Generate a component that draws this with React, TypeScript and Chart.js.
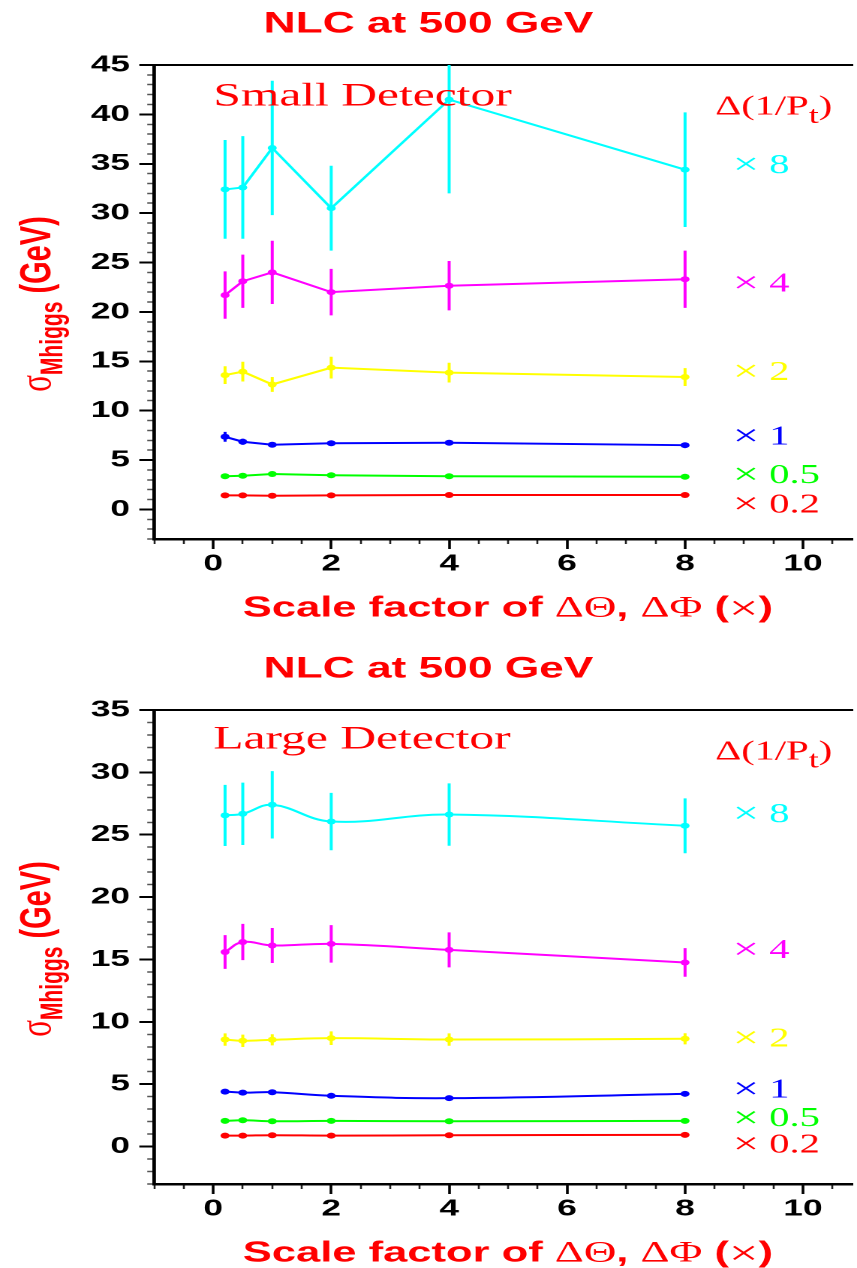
import React, { useEffect, useRef } from 'react';
import { Chart, registerables } from 'chart.js';

Chart.register(...registerables);

// ---------------- data ----------------
const X_VALUES = [0.2, 0.5, 1, 2, 4, 8];

const SERIES_FACTORS = ['8', '4', '2', '1', '0.5', '0.2'];
const SERIES_COLORS = ['#00ffff', '#ff00ff', '#ffff00', '#0000ff', '#00ff00', '#ff0000'];

// Small detector (top panel)
const SMALL_X8 = [32.4, 32.6, 36.6, 30.5, 41.5, 34.4];
const SMALL_X8_ERR = [5.0, 5.2, 6.8, 4.3, 9.5, 5.8];
const SMALL_X4 = [21.7, 23.1, 24.0, 22.0, 22.65, 23.3];
const SMALL_X4_ERR = [2.4, 2.7, 3.2, 2.35, 2.5, 2.9];
const SMALL_X2 = [13.6, 13.95, 12.65, 14.35, 13.85, 13.4];
const SMALL_X2_ERR = [0.9, 1.0, 0.75, 1.1, 1.0, 0.9];
const SMALL_X1 = [7.35, 6.85, 6.55, 6.7, 6.75, 6.5];
const SMALL_X1_ERR = [0.5, 0.3, 0.2, 0.2, 0.2, 0.2];
const SMALL_X05 = [3.35, 3.4, 3.58, 3.45, 3.35, 3.3];
const SMALL_X05_ERR = [0.1, 0.1, 0.1, 0.1, 0.1, 0.1];
const SMALL_X02 = [1.42, 1.42, 1.38, 1.42, 1.45, 1.45];
const SMALL_X02_ERR = [0.08, 0.08, 0.08, 0.08, 0.08, 0.08];

// Large detector (bottom panel)
const LARGE_X8 = [26.55, 26.68, 27.4, 26.06, 26.62, 25.72];
const LARGE_X8_ERR = [2.45, 2.5, 2.7, 2.3, 2.5, 2.2];
const LARGE_X4 = [15.6, 16.4, 16.12, 16.25, 15.77, 14.76];
const LARGE_X4_ERR = [1.35, 1.45, 1.4, 1.5, 1.4, 1.15];
const LARGE_X2 = [8.58, 8.48, 8.56, 8.69, 8.58, 8.64];
const LARGE_X2_ERR = [0.5, 0.5, 0.45, 0.55, 0.5, 0.45];
const LARGE_X1 = [4.41, 4.33, 4.36, 4.07, 3.88, 4.23];
const LARGE_X1_ERR = [0.1, 0.1, 0.1, 0.1, 0.1, 0.1];
const LARGE_X05 = [2.06, 2.11, 2.03, 2.06, 2.03, 2.06];
const LARGE_X05_ERR = [0.06, 0.06, 0.06, 0.06, 0.06, 0.06];
const LARGE_X02 = [0.88, 0.88, 0.91, 0.88, 0.91, 0.94];
const LARGE_X02_ERR = [0.05, 0.05, 0.05, 0.05, 0.05, 0.05];

// ticks
const X_TICK_LABELS = [0, 2, 4, 6, 8, 10];
const X_MINOR_TICKS = [-1, -0.5, 0.5, 1, 1.5, 2.5, 3, 3.5, 4.5, 5, 5.5, 6.5, 7, 7.5, 8.5, 9, 9.5, 10.5];
const SMALL_Y_TICKS = [0, 5, 10, 15, 20, 25, 30, 35, 40, 45];
const LARGE_Y_TICKS = [0, 5, 10, 15, 20, 25, 30, 35];
const SMALL_Y_MINOR = Array.from({ length: 49 }, (_, i) => i - 3).filter((v) => v % 5 !== 0);
const LARGE_Y_MINOR = Array.from({ length: 39 }, (_, i) => i - 3).filter((v) => v % 5 !== 0);

// label anchors (data coordinates)
const SMALL_LABEL_Y = [34.8, 22.8, 13.8, 7.3, 3.4, 0.4];
const LARGE_LABEL_Y = [26.6, 15.7, 8.6, 4.5, 2.2, 0.1];
const SMALL_HEADER_Y = 40.7;
const LARGE_HEADER_Y = 31.6;

// ---------------- layout constants ----------------
const SCALE_X = 857 / 571;
const PANEL_W = 571;
const PANEL_H = 623;
const X_MIN = -1;
const X_MAX = 10.84;
const SERIES_LABEL_X = 8.81;
const HEADER_X = 8.51;
const DETECTOR_X = 0;

type Panel = {
  title: string;
  detector: string;
  detectorOffset: number;
  yMin: number;
  yMax: number;
  yTicks: number[];
  yMinor: number[];
  values: number[][];
  errors: number[][];
  labelY: number[];
  headerY: number;
  tension: number;
};

const SMALL: Panel = {
  title: 'NLC at 500 GeV',
  detector: 'Small Detector',
  detectorOffset: 40.5,
  yMin: -3,
  yMax: 45,
  yTicks: SMALL_Y_TICKS,
  yMinor: SMALL_Y_MINOR,
  values: [SMALL_X8, SMALL_X4, SMALL_X2, SMALL_X1, SMALL_X05, SMALL_X02],
  errors: [SMALL_X8_ERR, SMALL_X4_ERR, SMALL_X2_ERR, SMALL_X1_ERR, SMALL_X05_ERR, SMALL_X02_ERR],
  labelY: SMALL_LABEL_Y,
  headerY: SMALL_HEADER_Y,
  tension: 0,
};

const LARGE: Panel = {
  title: 'NLC at 500 GeV',
  detector: 'Large Detector',
  detectorOffset: 38.5,
  yMin: -3,
  yMax: 35,
  yTicks: LARGE_Y_TICKS,
  yMinor: LARGE_Y_MINOR,
  values: [LARGE_X8, LARGE_X4, LARGE_X2, LARGE_X1, LARGE_X05, LARGE_X02],
  errors: [LARGE_X8_ERR, LARGE_X4_ERR, LARGE_X2_ERR, LARGE_X1_ERR, LARGE_X05_ERR, LARGE_X02_ERR],
  labelY: LARGE_LABEL_Y,
  headerY: LARGE_HEADER_Y,
  tension: 0.4,
};

const SANS = '"Liberation Sans", Arial, sans-serif';
const SERIF = '"Liberation Serif", "Times New Roman", serif';

const errorBarPlugin = {
  id: 'errorBars',
  beforeDatasetsDraw(chart: any) {
    const { ctx, chartArea: ca } = chart;
    const ys = chart.scales.y;
    ctx.save();
    ctx.beginPath();
    ctx.rect(ca.left, ca.top, ca.right - ca.left, ca.bottom - ca.top);
    ctx.clip();
    chart.data.datasets.forEach((ds: any, di: number) => {
      const meta = chart.getDatasetMeta(di);
      ctx.strokeStyle = ds.borderColor;
      ctx.lineWidth = 2;
      meta.data.forEach((pt: any, i: number) => {
        const v = ds.data[i].y;
        const e = ds.errors[i];
        ctx.beginPath();
        ctx.moveTo(pt.x, ys.getPixelForValue(v - e));
        ctx.lineTo(pt.x, ys.getPixelForValue(v + e));
        ctx.stroke();
      });
    });
    ctx.restore();
  },
};

type Seg = { text: string; font: string; dy: number };

function drawSegments(ctx: any, segs: Seg[], x: number, y: number) {
  let cx = x;
  segs.forEach((s) => {
    ctx.font = s.font;
    ctx.fillText(s.text, cx, y + s.dy);
    cx += ctx.measureText(s.text).width;
  });
}

function measureSegments(ctx: any, segs: Seg[]) {
  let w = 0;
  segs.forEach((s) => {
    ctx.font = s.font;
    w += ctx.measureText(s.text).width;
  });
  return w;
}

function makeTextPlugin(panel: Panel) {
  return {
    id: 'panelText',
    afterDraw(chart: any) {
      const { ctx, chartArea: ca, scales } = chart;
      const xs = scales.x;
      const ys = scales.y;
      ctx.save();
      ctx.textAlign = 'left';

      // detector label
      ctx.fillStyle = '#ff0000';
      ctx.textBaseline = 'alphabetic';
      ctx.font = `33px ${SERIF}`;
      ctx.fillText(panel.detector, xs.getPixelForValue(DETECTOR_X), ca.top + panel.detectorOffset);

      // header Δ(1/Pt)
      ctx.textBaseline = 'middle';
      const hy = ys.getPixelForValue(panel.headerY);
      drawSegments(
        ctx,
        [
          { text: 'Δ(1/P', font: `27px ${SERIF}`, dy: 0 },
          { text: 't', font: `24px ${SERIF}`, dy: 9 },
          { text: ')', font: `27px ${SERIF}`, dy: 0 },
        ],
        xs.getPixelForValue(HEADER_X),
        hy
      );

      // series labels
      SERIES_FACTORS.forEach((f, i) => {
        ctx.fillStyle = SERIES_COLORS[i];
        drawSegments(
          ctx,
          [
            { text: '×', font: `31px ${SERIF}`, dy: 0 },
            { text: ' ' + f, font: `27px ${SERIF}`, dy: 0 },
          ],
          xs.getPixelForValue(SERIES_LABEL_X),
          ys.getPixelForValue(panel.labelY[i])
        );
      });

      // x axis title
      ctx.fillStyle = '#ff0000';
      ctx.textBaseline = 'alphabetic';
      const xSegs: Seg[] = [
        { text: 'Scale factor of ', font: `bold 29px ${SANS}`, dy: 0 },
        { text: 'ΔΘ', font: `30px ${SERIF}`, dy: 0 },
        { text: ', ', font: `bold 29px ${SANS}`, dy: 0 },
        { text: 'ΔΦ', font: `30px ${SERIF}`, dy: 0 },
        { text: ' (', font: `bold 29px ${SANS}`, dy: 0 },
        { text: '×', font: `35px ${SERIF}`, dy: 3 },
        { text: ')', font: `bold 29px ${SANS}`, dy: 0 },
      ];
      const xw = measureSegments(ctx, xSegs);
      drawSegments(ctx, xSegs, (ca.left + ca.right) / 2 - xw / 2 + 3, ca.bottom + 77.5);

      // y axis title (rotated)
      const ySegs: Seg[] = [
        { text: 'σ', font: `31px ${SERIF}`, dy: 0 },
        { text: 'Mhiggs', font: `bold 21px ${SANS}`, dy: 8 },
        { text: ' (GeV)', font: `bold 29px ${SANS}`, dy: 0 },
      ];
      const yw = measureSegments(ctx, ySegs);
      const cy = (ca.top + ca.bottom) / 2 + 2;
      ctx.translate(33.3, cy + yw / 2);
      ctx.rotate(-Math.PI / 2);
      drawSegments(ctx, ySegs, 0, 0);

      ctx.restore();
    },
  };
}

function PanelChart({ panel }: { panel: Panel }) {
  const ref = useRef<HTMLCanvasElement>(null);
  useEffect(() => {
    const chart = new Chart(ref.current as HTMLCanvasElement, {
      type: 'line',
      data: {
        datasets: panel.values.map((vals, si) => ({
          label: '× ' + SERIES_FACTORS[si],
          data: X_VALUES.map((x, i) => ({ x, y: vals[i] })),
          errors: panel.errors[si],
          borderColor: SERIES_COLORS[si],
          backgroundColor: SERIES_COLORS[si],
          borderWidth: 2,
          pointRadius: 3,
          pointHoverRadius: 3,
          pointBorderWidth: 0,
          tension: panel.tension,
          fill: false,
        })) as any,
      },
      options: {
        animation: false,
        responsive: true,
        maintainAspectRatio: false,
        devicePixelRatio: 2,
        layout: { padding: 0 },
        events: [],
        plugins: {
          legend: { display: false },
          tooltip: { enabled: false },
          title: {
            display: true,
            text: panel.title,
            color: '#ff0000',
            font: { family: SANS, weight: 'bold', size: 29.5, lineHeight: 1.2 },
            padding: { top: 6.5, bottom: 23.1 },
          },
        },
        scales: {
          x: {
            type: 'linear',
            position: 'bottom',
            weight: 1,
            min: X_MIN,
            max: X_MAX,
            afterBuildTicks: (s: any) => {
              s.ticks = X_TICK_LABELS.map((v) => ({ value: v }));
            },
            afterFit: (s: any) => {
              s.height = PANEL_H - 539;
            },
            grid: { display: true, drawOnChartArea: false, drawTicks: true, tickLength: 10, tickWidth: 1.8, tickColor: '#000' },
            border: { display: true, color: '#000', width: 2.5 },
            ticks: {
              color: '#000',
              font: { family: SANS, size: 23.5, weight: 'bold' },
              padding: 1,
              maxRotation: 0,
              autoSkip: false,
              callback: (v: any) => String(v),
            },
          },
          xMinor: {
            type: 'linear',
            position: 'bottom',
            weight: 0,
            min: X_MIN,
            max: X_MAX,
            afterBuildTicks: (s: any) => {
              s.ticks = X_MINOR_TICKS.map((v) => ({ value: v }));
            },
            afterFit: (s: any) => {
              s.height = 0;
            },
            grid: { display: true, drawOnChartArea: false, drawTicks: true, tickLength: 5, tickWidth: 1.3, tickColor: '#222' },
            border: { display: false },
            ticks: { display: false, autoSkip: false },
          },
          xTop: {
            type: 'linear',
            position: 'top',
            min: X_MIN,
            max: X_MAX,
            afterFit: (s: any) => {
              s.height = 0;
            },
            grid: { display: true, drawOnChartArea: false, drawTicks: false },
            border: { display: true, color: '#000', width: 2 },
            ticks: { display: false },
          },
          y: {
            type: 'linear',
            position: 'left',
            weight: 1,
            min: panel.yMin,
            max: panel.yMax,
            afterBuildTicks: (s: any) => {
              s.ticks = panel.yTicks.map((v) => ({ value: v }));
            },
            afterFit: (s: any) => {
              s.width = 154.3 / SCALE_X;
            },
            grid: { display: true, drawOnChartArea: false, drawTicks: true, tickLength: 10, tickWidth: 2, tickColor: '#000' },
            border: { display: true, color: '#000', width: 2.4 },
            ticks: {
              color: '#000',
              font: { family: SANS, size: 23.5, weight: 'bold' },
              padding: 6.2,
              autoSkip: false,
              callback: (v: any) => String(v),
            },
          },
          yMinor: {
            type: 'linear',
            position: 'left',
            weight: 0,
            min: panel.yMin,
            max: panel.yMax,
            afterBuildTicks: (s: any) => {
              s.ticks = panel.yMinor.map((v) => ({ value: v }));
            },
            afterFit: (s: any) => {
              s.width = 0;
            },
            grid: { display: true, drawOnChartArea: false, drawTicks: true, tickLength: 4.7, tickWidth: 1.5, tickColor: '#555' },
            border: { display: false },
            ticks: { display: false, autoSkip: false },
          },
        },
      } as any,
      plugins: [errorBarPlugin, makeTextPlugin(panel)],
    });
    return () => chart.destroy();
  }, [panel]);
  return (
    <div style={{ width: PANEL_W, height: PANEL_H, position: 'relative' }}>
      <canvas ref={ref} />
    </div>
  );
}

export default function App() {
  useEffect(() => {
    document.body.style.margin = '0';
    document.body.style.overflow = 'hidden';
  }, []);
  const wrap = (top: number): React.CSSProperties => ({
    position: 'absolute',
    left: 0,
    top,
    width: PANEL_W,
    height: PANEL_H,
    transform: `scaleX(${SCALE_X})`,
    transformOrigin: '0 0',
  });
  return (
    <div style={{ position: 'fixed', left: 0, top: 0, width: 857, height: 1268, overflow: 'hidden', background: '#fff' }}>
      <div style={wrap(0)}>
        <PanelChart panel={SMALL} />
      </div>
      <div style={wrap(645)}>
        <PanelChart panel={LARGE} />
      </div>
    </div>
  );
}
